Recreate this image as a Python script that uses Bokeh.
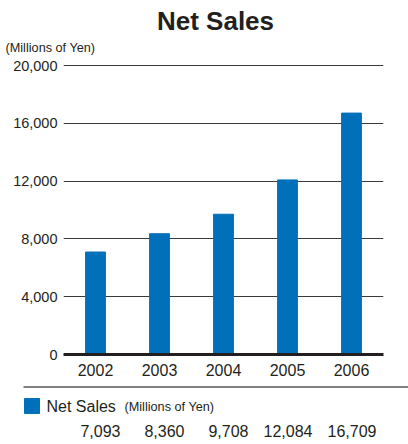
from bokeh.plotting import figure
from bokeh.models import FactorRange, Range1d, FixedTicker, NumeralTickFormatter
from bokeh.layouts import column
from bokeh.embed import file_html
from bokeh.resources import INLINE
from bokeh.core.properties import value

years = ["2002", "2003", "2004", "2005", "2006"]
net_sales = [7093, 8360, 9708, 12084, 16709]
y_ticks = [0, 4000, 8000, 12000, 16000, 20000]
title_text = "Net Sales"
unit_text = "(Millions of Yen)"
legend_text = "Net Sales"

BLUE = "#0070BB"
INK = "#231f20"
FONT = "Liberation Sans"
W = 408


def blank(height, x_range, y_range):
    f = figure(width=W, height=height, x_range=x_range, y_range=y_range, title=None,
               min_border=0, min_border_left=0, min_border_right=0,
               min_border_top=0, min_border_bottom=0, frame_align=False,
               toolbar_location=None, output_backend="svg",
               x_axis_type=None, y_axis_type=None)
    f.outline_line_color = None
    f.xgrid.visible = False
    f.ygrid.visible = False
    return f


# ---------- header (title + unit) ----------
h = blank(56, Range1d(0, W), Range1d(56, 0))
h.text(x=[215], y=[20], text=[title_text], text_font=value(FONT), text_font_size=value("26px"),
       text_font_style="bold", text_align="center", text_baseline="middle", text_color=INK)
h.text(x=[5], y=[47.5], text=[unit_text], text_font=value(FONT), text_font_size=value("12.7px"),
       text_align="left", text_baseline="middle", text_color=INK)

# ---------- main chart ----------
p = figure(x_range=FactorRange(*years, range_padding=0), y_range=Range1d(0, 20350), title=None,
           width=W, height=324, output_backend="svg", toolbar_location=None, frame_align=False,
           min_border_left=63, min_border_right=25, min_border_top=4, min_border_bottom=26)
p.outline_line_color = None
p.vbar(x=years, top=net_sales, width=0.31, color=BLUE)

p.yaxis.ticker = FixedTicker(ticks=y_ticks)
p.yaxis.formatter = NumeralTickFormatter(format="0,0")
p.yaxis.axis_line_color = None
p.yaxis.major_tick_line_color = None
p.yaxis.minor_tick_line_color = None
p.yaxis.major_tick_out = 0
p.yaxis.major_tick_in = 0
p.yaxis.minor_tick_out = 0
p.yaxis.major_label_text_font = FONT
p.yaxis.major_label_text_font_size = "14.5px"
p.yaxis.major_label_text_color = INK
p.yaxis.major_label_standoff = 6

p.xaxis.axis_line_width = 3
p.xaxis.axis_line_color = INK
p.xaxis.major_tick_line_color = None
p.xaxis.minor_tick_line_color = None
p.xaxis.major_tick_out = 0
p.xaxis.major_tick_in = 0
p.xaxis.major_label_text_font = FONT
p.xaxis.major_label_text_font_size = "16px"
p.xaxis.major_label_text_color = INK
p.xaxis.major_label_standoff = 9

p.xgrid.grid_line_color = None
p.ygrid.ticker = FixedTicker(ticks=y_ticks)
p.ygrid.grid_line_color = "#3a3a3a"
p.ygrid.grid_line_width = 1.2

# ---------- data table below ----------
q = blank(64, Range1d(-63 / 64, 345 / 64), Range1d(64, 0))
q.segment(x0=[-0.625], y0=[6.5], x1=[345 / 64], y1=[6.5], line_color="#555555", line_width=1.5)
q.scatter(x=[-0.492], y=[25.5], marker="square", size=15, color=BLUE)
q.text(x=[-0.2656], y=[25.5], text=[legend_text], text_font=value(FONT),
       text_font_size=value("16px"), text_baseline="middle", text_align="left", text_color=INK)
q.text(x=[0.953], y=[26.5], text=[unit_text], text_font=value(FONT),
       text_font_size=value("12.7px"), text_baseline="middle", text_align="left", text_color=INK)

xs = [i + 0.5 + 25 / 64 for i in range(len(years))]
q.text(x=xs, y=[50] * len(years), text=[f"{v:,}" for v in net_sales], text_font=value(FONT),
       text_font_size=value("16px"), text_baseline="middle", text_align="right", text_color=INK)

layout = column(h, p, q, spacing=0)
open("out.html", "w").write(file_html(layout, INLINE))
